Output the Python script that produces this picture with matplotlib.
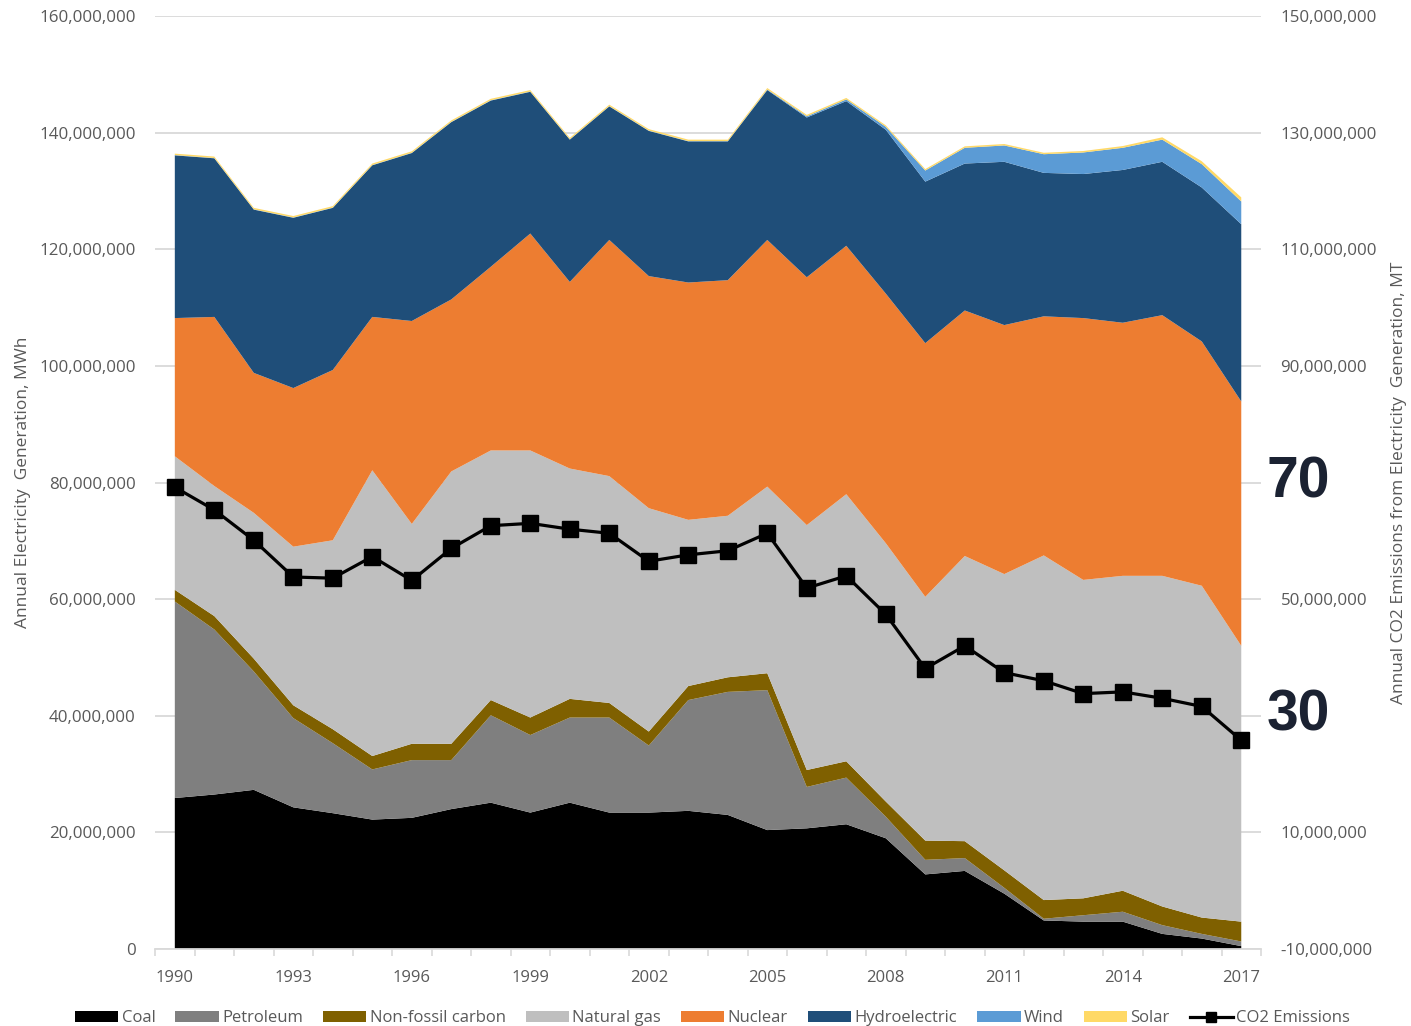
import numpy as np
import matplotlib
matplotlib.use('Agg')
import matplotlib.pyplot as plt
from matplotlib.patches import Patch
from matplotlib.lines import Line2D

plt.rcParams['font.family'] = ['Open Sans', 'DejaVu Sans']

# Datos (millones de MWh / millones de MT)
years = list(range(1990, 2018))

coal = [25.9, 26.5, 27.3, 24.3, 23.3, 22.2, 22.5, 24.0, 25.1, 23.4, 25.1, 23.4, 23.4, 23.7,
        23.0, 20.4, 20.7, 21.4, 19.0, 12.8, 13.4, 9.5, 4.9, 4.7, 4.7, 2.6, 1.8, 0.5]
petroleum = [33.7, 28.3, 20.3, 15.3, 12.0, 8.6, 9.9, 8.4, 15.0, 13.3, 14.6, 16.3, 11.5, 19.0,
             21.1, 24.0, 7.1, 8.0, 3.7, 2.5, 2.2, 1.0, 0.3, 1.1, 1.7, 1.5, 0.8, 0.8]
non_fossil = [2.0, 2.3, 2.2, 2.2, 2.4, 2.3, 2.8, 2.8, 2.6, 3.0, 3.2, 2.5, 2.4, 2.4,
              2.5, 2.9, 2.9, 2.8, 2.6, 3.3, 2.9, 3.0, 3.2, 2.9, 3.6, 3.2, 2.8, 3.4]
natural_gas = [22.9, 22.3, 25.0, 27.2, 32.4, 49.0, 37.7, 46.7, 42.8, 45.8, 39.5, 38.9, 38.3, 28.5,
               27.7, 32.0, 42.0, 45.8, 44.3, 41.8, 48.9, 50.8, 59.1, 54.6, 54.0, 56.7, 56.9, 47.3]
nuclear = [23.7, 29.0, 24.0, 27.2, 29.2, 26.3, 34.8, 29.5, 31.5, 37.2, 32.0, 40.5, 39.8, 40.7,
           40.4, 42.3, 42.5, 42.6, 42.8, 43.5, 42.1, 42.7, 41.0, 44.9, 43.4, 44.7, 41.9, 41.9]
hydro = [27.9, 27.2, 28.0, 29.2, 27.8, 26.0, 28.8, 30.4, 28.5, 24.3, 24.4, 22.9, 24.9, 24.2,
         23.8, 25.7, 27.4, 24.8, 28.1, 27.7, 25.2, 28.0, 24.6, 24.7, 26.2, 26.3, 26.4, 30.4]
wind = [0.05, 0.05, 0.05, 0.05, 0.05, 0.05, 0.05, 0.05, 0.05, 0.05, 0.05, 0.05, 0.05, 0.05,
        0.05, 0.1, 0.2, 0.3, 0.5, 1.9, 2.7, 2.8, 3.2, 3.7, 3.8, 3.8, 4.0, 3.9]
solar = [0.25, 0.25, 0.25, 0.25, 0.25, 0.25, 0.25, 0.25, 0.25, 0.25, 0.25, 0.25, 0.25, 0.25,
         0.25, 0.25, 0.25, 0.25, 0.25, 0.25, 0.25, 0.25, 0.25, 0.25, 0.3, 0.4, 0.5, 0.7]
co2 = [69.2, 65.3, 60.1, 53.8, 53.6, 57.3, 53.2, 58.7, 62.6, 63.0, 62.0, 61.3, 56.5, 57.6,
       58.3, 61.3, 51.9, 54.0, 47.4, 38.1, 42.0, 37.4, 36.0, 33.8, 34.1, 33.0, 31.6, 25.8]

names = ['Coal', 'Petroleum', 'Non-fossil carbon', 'Natural gas', 'Nuclear',
         'Hydroelectric', 'Wind', 'Solar']
colors = ['#000000', '#7f7f7f', '#7f6000', '#bfbfbf', '#ed7d31', '#1f4e79', '#5b9bd5', '#ffd966']

# en el eje derecho, 70 y 30 van como numeros grandes
big_labels = [70, 30]

series = [coal, petroleum, non_fossil, natural_gas, nuclear, hydro, wind, solar]
series = [np.array(s) * 1e6 for s in series]

TXT = '#595959'
GRID = '#d9d9d9'

fig = plt.figure(figsize=(14.11, 10.26), dpi=100)
ax = fig.add_axes([0.1099, 0.0750, 0.7838, 0.9094])
ax.stackplot(years, *series, colors=colors, linewidth=0)

left_ticks = np.arange(0, 160e6 + 1, 20e6)
ax.set_xlim(1989.5, 2017.5)
ax.set_ylim(0, 160e6)
ax.set_yticks(left_ticks)
ax.set_yticklabels([f"{int(v):,}" for v in left_ticks])
ax.set_xticks(list(range(1990, 2018, 3)))
ax.set_xticks(np.arange(1989.5, 2018, 1), minor=True)
ax.tick_params(axis='x', which='major', length=0, pad=15, labelsize=12, labelcolor=TXT)
ax.tick_params(axis='x', which='minor', length=5, color=GRID, width=1.2)
ax.tick_params(axis='y', length=0, pad=14, labelsize=12.2, labelcolor=TXT)
ax.grid(axis='y', color=GRID, linewidth=1.3)
ax.set_axisbelow(True)
for s in ['top', 'left', 'right']:
    ax.spines[s].set_visible(False)
ax.spines['bottom'].set_color(GRID)
ax.spines['bottom'].set_linewidth(1.3)
ax.set_ylabel('Annual Electricity  Generation, MWh', fontsize=12.5, color=TXT, labelpad=6)

# Emisiones en eje derecho
ax2 = ax.twinx()
ax2.plot(years, np.array(co2) * 1e6, color='black', linewidth=2.3, marker='s', markersize=11)
right_ticks = np.arange(-10e6, 150e6 + 1, 20e6)
ax2.set_ylim(-10e6, 150e6)
ax2.set_yticks(right_ticks)
ax2.set_yticklabels(['' if int(v / 1e6) in big_labels else f"{int(v):,}" for v in right_ticks])
ax2.tick_params(axis='y', length=0, pad=14, labelsize=12.2, labelcolor=TXT)
for s in ['top', 'left', 'right', 'bottom']:
    ax2.spines[s].set_visible(False)
ax2.set_ylabel('Annual CO2 Emissions from Electricity  Generation, MT', fontsize=12.5,
               color=TXT, labelpad=10)

# Numeros grandes
for v in big_labels:
    ax2.text(1.0335, v * 1e6, str(v), transform=ax2.get_yaxis_transform(), ha='center',
             va='center', fontsize=41, fontweight='bold', color='#1b2232',
             family='Liberation Sans', clip_on=False)

handles = [Patch(facecolor=c, edgecolor='none', label=n) for n, c in zip(names, colors)]
handles.append(Line2D([0], [0], color='black', linewidth=2.3, marker='s', markersize=7,
                      label='CO2 Emissions'))
fig.legend(handles=handles, loc='lower center', bbox_to_anchor=(0.505, -0.015), ncol=9,
           frameon=False, fontsize=12, labelcolor=TXT, handlelength=2.6, handleheight=0.6,
           handletextpad=0.2, columnspacing=1.2)

plt.savefig('out.png', dpi=100)
